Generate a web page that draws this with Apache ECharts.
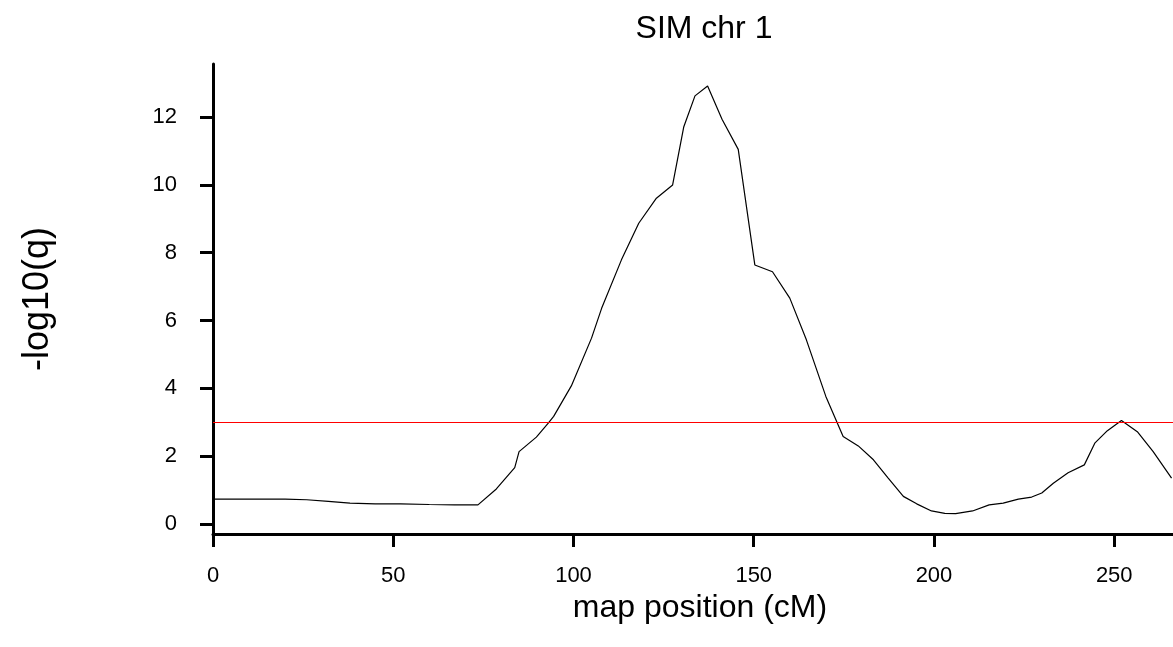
<!DOCTYPE html>
<html>
<head>
<meta charset="utf-8">
<script src="https://cdn.jsdelivr.net/npm/echarts@6/dist/echarts.min.js"></script>
<style>
html,body{margin:0;padding:0;background:#fff;}
#chart{width:1173px;height:647px;}
</style>
</head>
<body>
<div id="chart"></div>
<script>
// map position (cM)
var positions = [0, 10, 20, 26, 32, 38, 45, 52, 60, 67, 73.5, 78.6, 83.7, 84.9, 89.7, 93, 94.5, 99.4, 105, 107.8,
  113.3, 118.1, 123, 127.5, 130.6, 133.7, 137.2, 141.2, 145.7, 150.3, 155.2, 160, 164.6, 170, 174.8, 179,
  183.2, 187.3, 191.5, 195.2, 199.3, 203, 206, 210.7, 215.3, 219.2, 223.4, 227.1, 229.9, 233.1, 237.2,
  241.7, 244.6, 248.1, 252, 256.4, 260.8, 265.9];
// -log10(q)
var values = [0.73, 0.73, 0.73, 0.71, 0.66, 0.61, 0.59, 0.59, 0.57, 0.56, 0.56, 1.03, 1.66, 2.13, 2.56, 2.97, 3.17, 4.07, 5.48, 6.36,
  7.79, 8.87, 9.61, 10.0, 11.72, 12.63, 12.92, 11.94, 11.05, 7.64, 7.44, 6.66, 5.43, 3.76, 2.58, 2.30,
  1.89, 1.35, 0.81, 0.59, 0.38, 0.31, 0.30, 0.38, 0.56, 0.61, 0.73, 0.79, 0.91, 1.20, 1.51,
  1.74, 2.38, 2.75, 3.05, 2.72, 2.13, 1.35];
var threshold = 3;
var xTicks = [0, 50, 100, 150, 200, 250];
var yTicks = [0, 2, 4, 6, 8, 10, 12];
var titleText = 'SIM chr 1';
var xName = 'map position (cM)';
var yName = '-log10(q)';

var FONT = 'Liberation Sans, Arial, sans-serif';
var chart = echarts.init(document.getElementById('chart'));
var lineData = positions.map(function (p, i) { return [p, values[i]]; });

chart.setOption({
  animation: false,
  backgroundColor: '#ffffff',
  title: {
    text: titleText,
    left: 699,
    textAlign: 'center',
    top: 8,
    textStyle: { fontFamily: FONT, fontSize: 32, fontWeight: 'normal', color: '#000' }
  },
  grid: { left: 213, right: 0, top: 64, bottom: 113, containLabel: false },
  xAxis: {
    type: 'value',
    min: 0,
    max: 266.3,
    name: xName,
    nameLocation: 'middle',
    nameGap: 56,
    nameTextStyle: { fontFamily: FONT, fontSize: 32, color: '#000', padding: [0, 0, 0, 14] },
    axisLine: { show: true, onZero: false, lineStyle: { color: '#000', width: 3 } },
    axisTick: { show: true, length: 13, customValues: xTicks, lineStyle: { color: '#000', width: 3 } },
    axisLabel: { customValues: xTicks, margin: 31, fontFamily: FONT, fontSize: 22, color: '#000' },
    splitLine: { show: false }
  },
  yAxis: {
    type: 'value',
    min: -0.3,
    max: 13.57,
    name: yName,
    nameLocation: 'middle',
    nameGap: 157,
    nameTextStyle: { fontFamily: FONT, fontSize: 36, color: '#000' },
    axisLine: { show: true, onZero: false, lineStyle: { color: '#000', width: 3 } },
    axisTick: { show: true, length: 13, customValues: yTicks, lineStyle: { color: '#000', width: 3 } },
    axisLabel: { customValues: yTicks, margin: 36, fontFamily: FONT, fontSize: 22, color: '#000' },
    splitLine: { show: false }
  },
  series: [{
    type: 'line',
    data: lineData,
    showSymbol: false,
    symbol: 'none',
    clip: true,
    lineStyle: { color: '#000', width: 1.2 },
    markLine: {
      silent: true,
      symbol: 'none',
      label: { show: false },
      lineStyle: { color: '#ff0000', width: 1.2, type: 'solid' },
      data: [{ yAxis: threshold }]
    }
  }]
});
</script>
</body>
</html>
